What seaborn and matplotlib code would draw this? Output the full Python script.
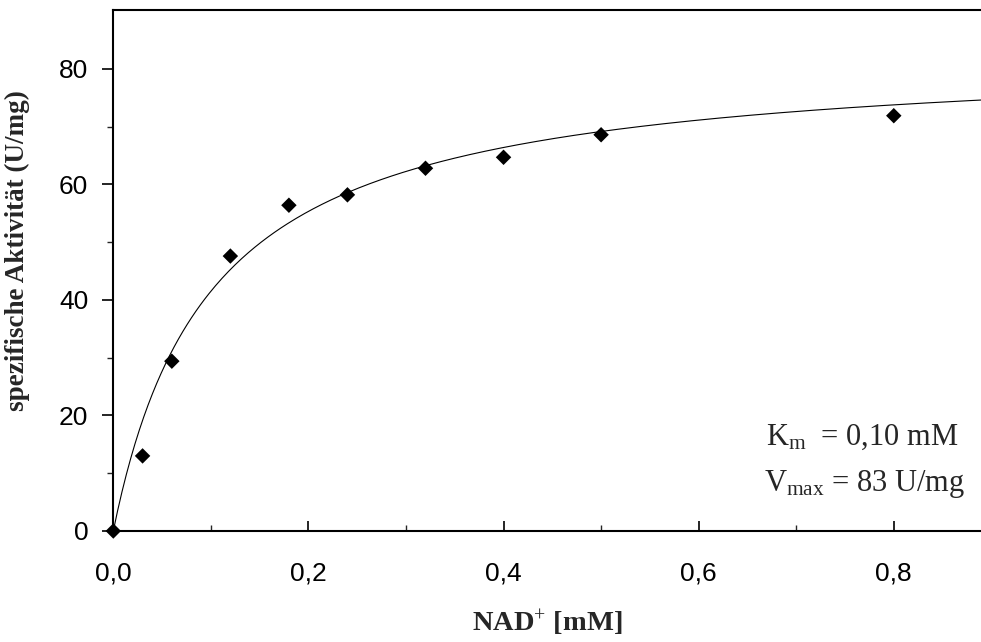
import numpy as np
import pandas as pd
import matplotlib
matplotlib.use("Agg")
import matplotlib.pyplot as plt
import seaborn as sns
from matplotlib.ticker import FixedLocator, FuncFormatter

# data
nad_mM = [0.0, 0.03, 0.06, 0.12, 0.18, 0.24, 0.32, 0.40, 0.50, 0.80]
activity = [0.0, 13.0, 29.4, 47.6, 56.4, 58.2, 62.8, 64.7, 68.6, 71.9]
Km = 0.10
Vmax = 83.0
x_ticks = [0.0, 0.2, 0.4, 0.6, 0.8]
x_minor = [0.1, 0.3, 0.5, 0.7]
y_ticks = [0, 20, 40, 60, 80]
y_minor = [10, 30, 50, 70]

sns.set_theme(style="ticks")
plt.rcParams["font.family"] = ["Liberation Sans", "DejaVu Sans"]
plt.rcParams["mathtext.fontset"] = "custom"
plt.rcParams["mathtext.rm"] = "Liberation Serif"
plt.rcParams["mathtext.it"] = "Liberation Serif:italic"
plt.rcParams["mathtext.bf"] = "Liberation Serif:bold"

fig = plt.figure(figsize=(9.81, 6.42), dpi=100)
ax = fig.add_axes([113.3 / 981, (642 - 531) / 642, 1 - 113.3 / 981, 521 / 642])

# Michaelis-Menten fit with the stated parameters
xs = np.linspace(0, 0.8894, 400)
fit = pd.DataFrame({"x": xs, "v": Vmax * xs / (Km + xs)})
sns.lineplot(data=fit, x="x", y="v", ax=ax, color="black", linewidth=0.8)

df = pd.DataFrame({"NAD": nad_mM, "act": activity})
sns.scatterplot(data=df, x="NAD", y="act", ax=ax, marker="D", s=62,
                color="black", edgecolor="none", zorder=5)
ax.collections[-1].set_clip_on(False)

ax.set_xlim(0, 0.8894)
ax.set_ylim(0, 90.2)

ax.spines["right"].set_visible(False)
for s in ["left", "bottom", "top"]:
    ax.spines[s].set_linewidth(1.5)
    ax.spines[s].set_color("black")

ax.xaxis.set_major_locator(FixedLocator(x_ticks))
ax.xaxis.set_minor_locator(FixedLocator(x_minor))
ax.yaxis.set_major_locator(FixedLocator(y_ticks))
ax.yaxis.set_minor_locator(FixedLocator(y_minor))
ax.xaxis.set_major_formatter(FuncFormatter(lambda v, p: f"{v:.1f}".replace(".", ",")))
ax.yaxis.set_major_formatter(FuncFormatter(lambda v, p: f"{v:.0f}"))

ax.tick_params(axis="x", which="major", direction="in", length=7, width=1.2,
               pad=22, labelsize=19, colors="black")
ax.tick_params(axis="x", which="minor", direction="in", length=4, width=1.0)
ax.tick_params(axis="y", which="major", direction="out", length=8, width=1.2,
               pad=10, labelsize=19, colors="black")
ax.tick_params(axis="y", which="minor", direction="out", length=4, width=1.0)
ax.tick_params(top=False, right=False, which="both")

serif = ["Liberation Serif", "DejaVu Serif"]
ax.set_xlabel(r"NAD$^{+}$ [mM]", fontsize=20.5, fontweight="bold", family=serif)
ax.xaxis.set_label_coords(0.5, -0.148)
ax.set_ylabel("spezifische Aktivität (U/mg)", fontsize=19.5, fontweight="bold",
              family=serif)
ax.yaxis.set_label_coords(-0.096, 0.539)

ax.text(0.752, 0.165, r"K$_\mathrm{m}$  = 0,10 mM", transform=ax.transAxes,
        fontsize=22, family=serif, va="baseline", ha="left")
ax.text(0.750, 0.077, r"V$_\mathrm{max}$ = 83 U/mg", transform=ax.transAxes,
        fontsize=22, family=serif, va="baseline", ha="left")

fig.savefig("out.png", dpi=100, facecolor="white")
